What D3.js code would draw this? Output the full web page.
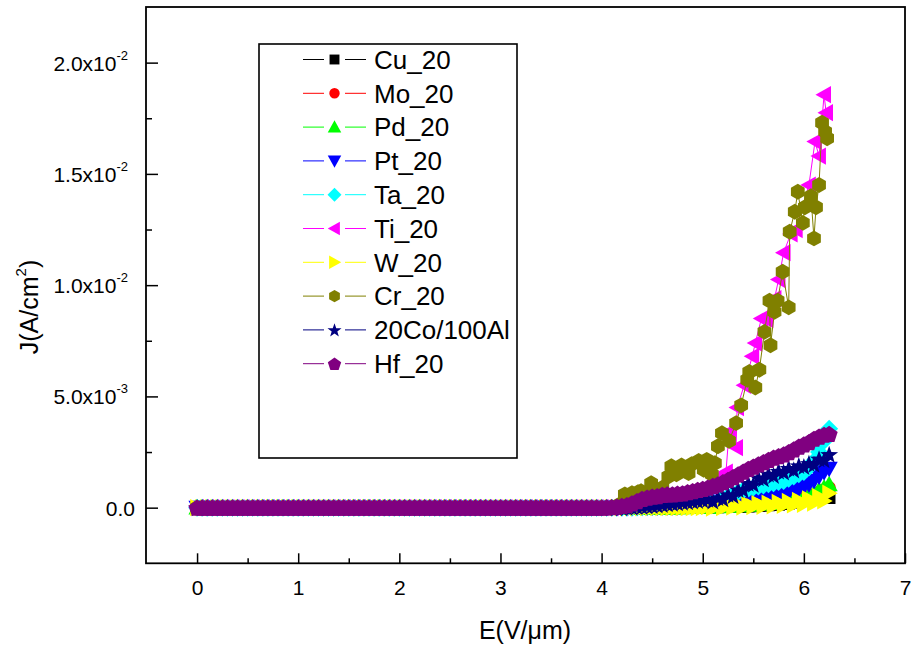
<!DOCTYPE html>
<html>
<head>
<meta charset="utf-8">
<script src="https://cdn.jsdelivr.net/npm/d3@7"></script>
<style>
  html, body { margin: 0; padding: 0; background: #ffffff; }
  svg { display: block; }
  text { font-family: "Liberation Sans", Arial, Helvetica, sans-serif; fill: #000; }
</style>
</head>
<body>
<svg id="chart" width="913" height="650"></svg>
<script>
// ---------------- DATA ----------------
const seriesNames = ["Cu_20", "Mo_20", "Pd_20", "Pt_20", "Ta_20", "Ti_20", "W_20", "Cr_20", "20Co/100Al", "Hf_20"];
const seriesColors = ["#000000", "#ff0000", "#00ff00", "#0000ff", "#00ffff", "#ff00ff", "#ffff00", "#808000", "#000080", "#800080"];
const seriesShapes = ["square", "circle", "triUp", "triDown", "diamond", "triLeft", "triRight", "hexagon", "star", "pentagon"];

// E (V/um) of the flat low-field part, J there reads 0 for every sample
const E_low = [0.00,0.05,0.10,0.15,0.20,0.25,0.30,0.35,0.40,0.45,0.50,0.55,0.60,0.65,0.70,0.75,0.80,0.85,0.90,0.95,
  1.00,1.05,1.10,1.15,1.20,1.25,1.30,1.35,1.40,1.45,1.50,1.55,1.60,1.65,1.70,1.75,1.80,1.85,1.90,1.95,
  2.00,2.05,2.10,2.15,2.20,2.25,2.30,2.35,2.40,2.45,2.50,2.55,2.60,2.65,2.70,2.75,2.80,2.85,2.90,2.95,
  3.00,3.05,3.10,3.15,3.20,3.25,3.30,3.35,3.40,3.45,3.50,3.55,3.60,3.65,3.70,3.75,3.80,3.85,3.90,3.95,4.00];
const J_low = [0,0,0,0,0,0,0,0,0,0,0,0,0,0,0,0,0,0,0,0,
  0,0,0,0,0,0,0,0,0,0,0,0,0,0,0,0,0,0,0,0,
  0,0,0,0,0,0,0,0,0,0,0,0,0,0,0,0,0,0,0,0,
  0,0,0,0,0,0,0,0,0,0,0,0,0,0,0,0,0,0,0,0,0];

// high-field grid (V/um); J values below in units of 1e-3 A/cm^2
const E_high = [4.05,4.10,4.15,4.20,4.25,4.30,4.35,4.40,4.45,4.50,4.55,4.60,4.65,4.70,4.75,4.80,4.85,4.90,4.95,5.00,
  5.05,5.10,5.15,5.20,5.25,5.30,5.35,5.40,5.45,5.50,5.55,5.60,5.65,5.70,5.75,5.80,5.85,5.90,5.95,6.00,
  6.05,6.10,6.15,6.20,6.25];
const J_Cu = [0,0,0,0,0,0,0,0,0,0, 0,0,0,0,0,0.01,0.01,0.01,0.02,0.02,
  0.02,0.03,0.03,0.04,0.04,0.05,0.05,0.06,0.07,0.08, 0.09,0.10,0.12,0.13,0.15,0.18,0.20,0.24,0.28,0.32,
  0.40,0.50,0.60,0.70,0.45];
const J_Mo = [0,0,0,0,0,0,0,0,0,0, 0,0,0,0.01,0.01,0.02,0.02,0.03,0.03,0.04,
  0.04,0.05,0.06,0.07,0.08,0.09,0.10,0.11,0.12,0.14, 0.16,0.18,0.20,0.22,0.24,0.27,0.30,0.34,0.38,0.42,
  0.50,0.58,0.68,0.80,0.90];
const J_Pd = [0,0,0,0,0,0,0,0,0,0, 0,0,0,0,0.01,0.01,0.02,0.02,0.03,0.03,
  0.04,0.05,0.06,0.07,0.08,0.09,0.10,0.12,0.13,0.15, 0.17,0.19,0.21,0.23,0.26,0.29,0.32,0.36,0.40,0.45,
  0.55,0.65,0.80,0.90,1.05];
const J_Pt = [0,0,0,0,0,0,0,0,0,0.01, 0.01,0.02,0.02,0.03,0.03,0.04,0.05,0.06,0.07,0.08,
  0.09,0.10,0.11,0.12,0.14,0.16,0.18,0.20,0.22,0.25, 0.30,0.35,0.40,0.48,0.55,0.62,0.70,0.78,0.85,0.95,
  1.05,1.20,1.40,1.60,1.75];
const J_Ta = [0,0,0,0,0,0,0.01,0.02,0.03,0.04, 0.05,0.06,0.08,0.10,0.12,0.14,0.16,0.18,0.20,0.22,
  0.25,0.30,0.35,0.40,0.50,0.60,0.70,0.78,0.85,0.90, 0.95,1.00,1.05,1.10,1.15,1.20,1.30,1.40,1.50,1.60,
  1.80,2.10,2.50,3.00,3.55];
const J_W = [0,0,0,0,0,0,0,0,0,0, 0,0,0,0,0,0,0,0,0,0,
  0.05,-0.02,0.08,0.00,0.10,0.02,0.12,0.03,0.15,0.05, 0.18,0.06,0.20,0.08,0.24,0.10,0.28,0.12,0.33,0.15,
  0.40,0.20,0.50,0.30,0.65];
const J_Co = [0,0,0,0,0.02,0.03,0.05,0.06,0.08,0.10, 0.12,0.15,0.18,0.20,0.22,0.25,0.27,0.30,0.32,0.35,
  0.38,0.30,0.46,0.40,0.60,0.55,0.82,0.80,1.10,1.05, 1.35,1.30,1.52,1.45,1.65,1.60,1.78,1.70,1.90,1.85,
  2.00,1.95,2.20,2.15,2.40];
const J_Hf = [0.02,0.03,0.05,0.08,0.12,0.20,0.30,0.40,0.45,0.50, 0.52,0.58,0.60,0.60,0.63,0.65,0.70,0.75,0.80,0.85,
  0.90,0.98,1.05,1.15,1.25,1.38,1.50,1.62,1.75,1.85, 1.95,2.05,2.15,2.25,2.32,2.40,2.50,2.62,2.75,2.85,
  2.95,3.10,3.20,3.28,3.32];

// Ti and Cr: own (noisy) samples, J in 1e-3 A/cm^2
const E_Ti = [4.10,4.20,4.30,4.40,4.50,4.60,4.70,4.80,4.90,5.00,5.06,5.13,5.23,5.26,5.33,5.34,5.41,5.49,5.52,5.58,
  5.63,5.71,5.75,5.80,5.87,5.92,6.05,6.11,6.15,6.20,6.22];
const J_Ti = [0,0.03,0.06,0.10,0.15,0.22,0.32,0.45,0.60,0.80,0.95,1.30,1.60,3.40,2.70,4.50,5.50,6.80,7.40,8.50,
  8.45,9.40,10.25,11.46,12.30,12.50,14.50,16.45,15.80,18.56,17.75];
const E_Cr = [4.10,4.18,4.23,4.30,4.36,4.39,4.45,4.49,4.55,4.60,4.66,4.69,4.74,4.79,4.86,4.89,4.96,5.01,5.04,5.09,
  5.12,5.15,5.19,5.26,5.33,5.38,5.44,5.46,5.52,5.56,5.61,5.66,5.67,5.71,5.74,5.79,5.85,5.86,5.91,5.94,
  5.99,6.01,6.07,6.10,6.12,6.15,6.18,6.21,6.23];
const J_Cr = [0,0.15,0.60,0.65,0.70,0.74,0.65,1.10,0.70,0.90,1.40,1.86,1.50,1.90,1.55,1.95,2.10,1.70,2.15,1.50,
  2.00,2.76,3.35,3.00,3.80,4.60,5.75,6.10,5.40,6.20,7.90,9.30,7.30,8.80,9.30,10.60,9.00,12.40,13.30,14.20,
  12.80,13.50,14.00,12.10,13.50,14.50,17.30,16.90,16.60];

const xTicks = [0, 1, 2, 3, 4, 5, 6, 7];
const xMinorTicks = [0.5, 1.5, 2.5, 3.5, 4.5, 5.5, 6.5];
const yTicks = [0, 0.005, 0.010, 0.015, 0.020];
const yMinorTicks = [0.0025, 0.0075, 0.0125, 0.0175];
const yTickMain = ["0.0", "5.0x10", "1.0x10", "1.5x10", "2.0x10"];
const yTickExp = ["", "-3", "-2", "-2", "-2"];

// ---------------- BUILD ----------------
const JS = 1e-3;
function lowPts() { return E_low.map((e, i) => [e, J_low[i]]); }
function gridPts(J) { return lowPts().concat(E_high.map((e, i) => [e, J[i] * JS])); }
function ownPts(E, J) { return lowPts().concat(E.map((e, i) => [e, J[i] * JS])); }
const seriesData = [
  gridPts(J_Cu), gridPts(J_Mo), gridPts(J_Pd), gridPts(J_Pt), gridPts(J_Ta),
  ownPts(E_Ti, J_Ti), gridPts(J_W), ownPts(E_Cr, J_Cr), gridPts(J_Co), gridPts(J_Hf)
];

const svg = d3.select("#chart");
const L = 146, R = 905, T = 7, B = 563.3;
const x = d3.scaleLinear().domain([-0.5, 7]).range([L + 0.5, R]);
const y = d3.scaleLinear().domain([-0.0025, 0.0225]).range([B, T]);

function shapePath(name) {
  const pts = (arr) => "M" + arr.map(p => p.join(",")).join("L") + "Z";
  switch (name) {
    case "square": return pts([[-5.5,-5.5],[5.5,-5.5],[5.5,5.5],[-5.5,5.5]]);
    case "circle": return "M-5.8,0A5.8,5.8 0 1,0 5.8,0A5.8,5.8 0 1,0 -5.8,0Z";
    case "triUp": return pts([[0,-7.5],[7.5,6],[-7.5,6]]);
    case "triDown": return pts([[0,7.5],[7.5,-6],[-7.5,-6]]);
    case "triLeft": return pts([[-7.5,0],[6,-7.5],[6,7.5]]);
    case "triRight": return pts([[7.5,0],[-6,-7.5],[-6,7.5]]);
    case "diamond": return pts([[0,-7.8],[7.8,0],[0,7.8],[-7.8,0]]);
    case "hexagon": {
      const a = [];
      for (let k = 0; k < 6; k++) { const t = Math.PI / 2 + k * Math.PI / 3; a.push([+(6.9 * Math.cos(t)).toFixed(2), +(6.9 * Math.sin(t)).toFixed(2)]); }
      return pts(a);
    }
    case "pentagon": {
      const a = [];
      for (let k = 0; k < 5; k++) { const t = -Math.PI / 2 + k * 2 * Math.PI / 5; a.push([+(7.8 * Math.cos(t)).toFixed(2), +(7.8 * Math.sin(t) + 0.8).toFixed(2)]); }
      return pts(a);
    }
    case "star": {
      const a = [];
      for (let k = 0; k < 10; k++) { const r = k % 2 === 0 ? 8.2 : 3.3; const t = -Math.PI / 2 + k * Math.PI / 5; a.push([+(r * Math.cos(t)).toFixed(2), +(r * Math.sin(t) + 0.8).toFixed(2)]); }
      return pts(a);
    }
  }
}

// clip
svg.append("defs").append("clipPath").attr("id", "clip")
  .append("rect").attr("x", L).attr("y", T).attr("width", R - L).attr("height", B - T);

const plot = svg.append("g").attr("clip-path", "url(#clip)");
const line = d3.line().x(d => x(d[0])).y(d => y(d[1]));
const MS = 1.15; // plot marker scale

seriesData.forEach((data, si) => {
  const g = plot.append("g");
  g.append("path").datum(data).attr("d", line)
    .attr("fill", "none").attr("stroke", seriesColors[si]).attr("stroke-width", 1);
  g.selectAll("path.m").data(data).enter().append("path").attr("class", "m")
    .attr("d", shapePath(seriesShapes[si]))
    .attr("transform", d => `translate(${x(d[0])},${y(d[1])}) scale(${MS})`)
    .attr("fill", seriesColors[si]);
});

// axes (inward ticks)
const axX = svg.append("g").attr("transform", `translate(0,${B})`)
  .call(d3.axisBottom(x).tickValues(xTicks).tickSize(-10).tickSizeOuter(0).tickPadding(17).tickFormat(d3.format("d")));
axX.select(".domain").remove();
axX.selectAll("text").attr("font-size", 21).attr("font-family", "Liberation Sans, Arial, sans-serif");
axX.selectAll("line").attr("stroke", "#000").attr("stroke-width", 1.5);
const axXm = svg.append("g").attr("transform", `translate(0,${B})`)
  .call(d3.axisBottom(x).tickValues(xMinorTicks).tickSize(-5).tickSizeOuter(0).tickFormat(""));
axXm.select(".domain").remove();
axXm.selectAll("line").attr("stroke", "#000").attr("stroke-width", 1.5);

const axY = svg.append("g").attr("transform", `translate(${L},0)`)
  .call(d3.axisLeft(y).tickValues(yTicks).tickSize(-12).tickSizeOuter(0).tickFormat(""));
axY.select(".domain").remove();
axY.selectAll("line").attr("stroke", "#000").attr("stroke-width", 1.5);
const axYm = svg.append("g").attr("transform", `translate(${L},0)`)
  .call(d3.axisLeft(y).tickValues(yMinorTicks).tickSize(-6).tickSizeOuter(0).tickFormat(""));
axYm.select(".domain").remove();
axYm.selectAll("line").attr("stroke", "#000").attr("stroke-width", 1.5);

// y tick labels with superscripts
yTicks.forEach((v, i) => {
  const t = svg.append("text").attr("y", y(v) + 8).attr("font-size", 21).attr("text-anchor", "end");
  if (yTickExp[i] === "") {
    t.attr("x", 135).text(yTickMain[i]);
  } else {
    t.attr("x", 128);
    t.append("tspan").text(yTickMain[i]);
    t.append("tspan").attr("font-size", 13).attr("dy", -11).text(yTickExp[i]);
  }
});

// frame
svg.append("rect").attr("x", L).attr("y", T).attr("width", R - L).attr("height", B - T)
  .attr("fill", "none").attr("stroke", "#000").attr("stroke-width", 1.8);

// axis titles
const xt = svg.append("text").attr("x", 525).attr("y", 639).attr("text-anchor", "middle").attr("font-size", 25);
xt.text("E(V/\u03bcm)");
const yt = svg.append("text").attr("transform", "translate(38,307) rotate(-90)").attr("text-anchor", "middle").attr("font-size", 25);
yt.append("tspan").text("J(A/cm");
yt.append("tspan").attr("font-size", 15).attr("dy", -12).text("2");
yt.append("tspan").attr("dy", 12).text(")");

// legend
const lg = svg.append("g");
lg.append("rect").attr("x", 259).attr("y", 44).attr("width", 258).attr("height", 414)
  .attr("fill", "#fff").attr("stroke", "#000").attr("stroke-width", 1.6);
seriesNames.forEach((name, i) => {
  const cy = 59.5 + i * 33.8;
  lg.append("line").attr("x1", 303).attr("x2", 324).attr("y1", cy).attr("y2", cy).attr("stroke", seriesColors[i]).attr("stroke-width", 1);
  lg.append("line").attr("x1", 345).attr("x2", 366).attr("y1", cy).attr("y2", cy).attr("stroke", seriesColors[i]).attr("stroke-width", 1);
  lg.append("path").attr("d", shapePath(seriesShapes[i])).attr("transform", `translate(334.5,${cy}) scale(0.9)`).attr("fill", seriesColors[i]);
  lg.append("text").attr("x", 374).attr("y", cy + 9.3).attr("font-size", 26).text(name);
});
</script>
</body>
</html>
